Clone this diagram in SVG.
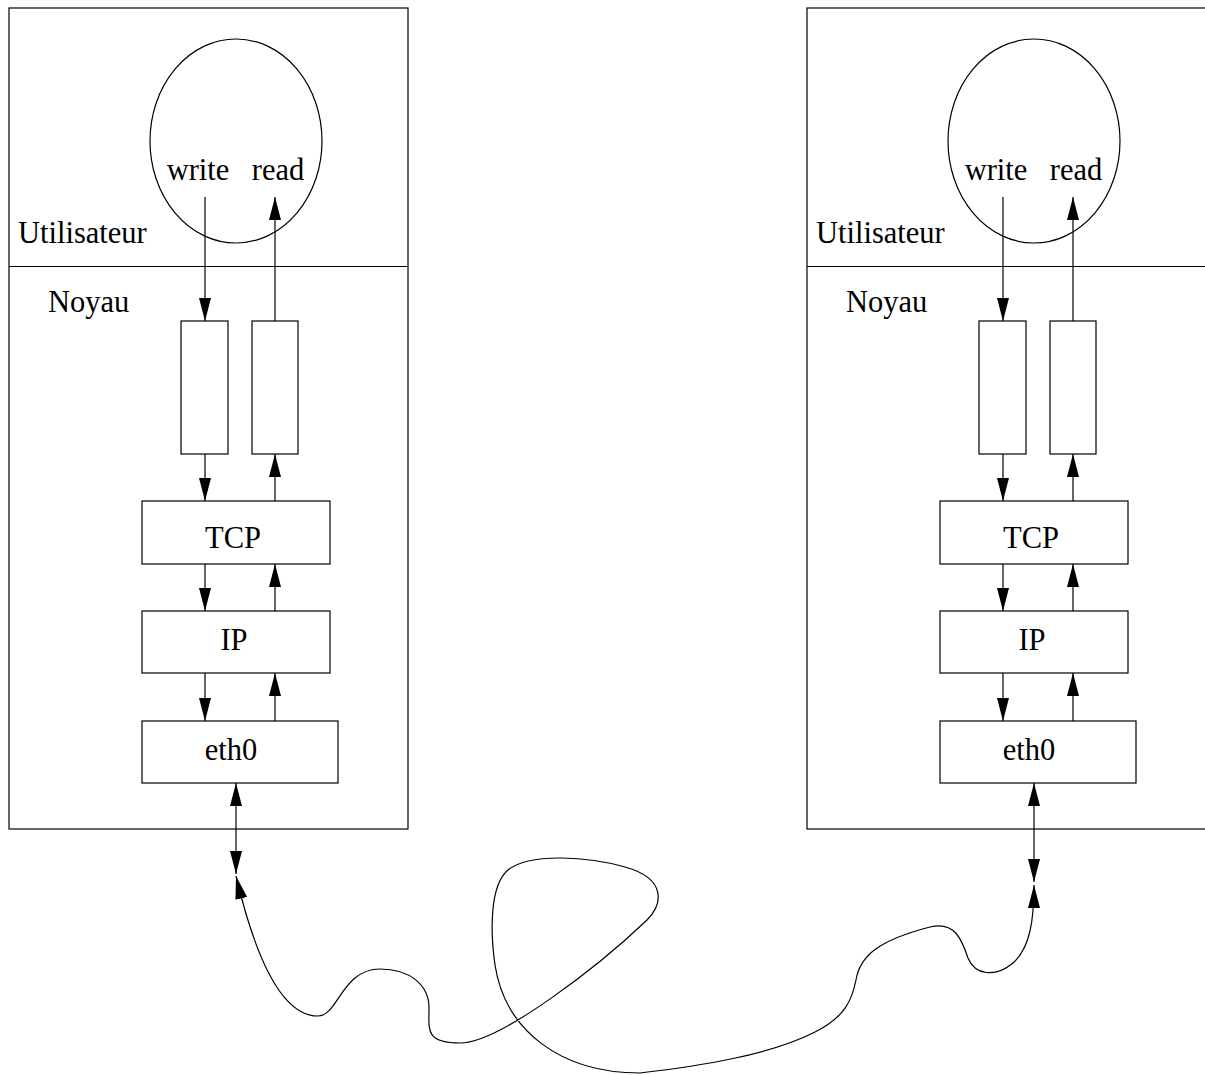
<svg xmlns="http://www.w3.org/2000/svg" width="1205" height="1075" viewBox="0 0 1205 1075">
<style>
.s{fill:none;stroke:#000;stroke-width:1.2}
.b{fill:#fff;stroke:#000;stroke-width:1.2}
.t{font-family:"Liberation Serif","Times New Roman",serif;font-size:30.5px;fill:#000}
.m{text-anchor:middle}
.a{fill:none;stroke:#000;stroke-width:1.2;marker-end:url(#ah)}
.d{fill:none;stroke:#000;stroke-width:1.2;marker-start:url(#ah);marker-end:url(#ah)}
</style>
<defs>
<marker id="ah" markerUnits="userSpaceOnUse" markerWidth="24" markerHeight="14" refX="23" refY="6" orient="auto-start-reverse" viewBox="0 0 24 12">
<path d="M0,0 L23,6 L0,12 z" fill="#000"/>
</marker>
</defs>
<rect width="1205" height="1075" fill="#fff"/>

<g id="host-left">
<g id="host-left-frame">
<rect class="s" x="9" y="8" width="399" height="821"/>
<line class="s" x1="9" y1="266.5" x2="408" y2="266.5"/>
<text class="t" x="18" y="243">Utilisateur</text>
<text class="t" x="48" y="312">Noyau</text>
</g>
<g id="process-left">
<ellipse class="s" cx="236" cy="141" rx="86" ry="102"/>
<text class="t m" x="198" y="180">write</text>
<text class="t m" x="278" y="180">read</text>
</g>
<g id="buf-write-left"><rect class="b" x="181" y="321" width="47" height="133"/></g>
<g id="buf-read-left"><rect class="b" x="252" y="321" width="46" height="133"/></g>
<g id="tcp-left"><rect class="b" x="142" y="501" width="188" height="63"/><text class="t m" x="233" y="548">TCP</text></g>
<g id="ip-left"><rect class="b" x="142" y="611" width="188" height="62"/><text class="t m" x="234" y="650">IP</text></g>
<g id="eth0-left"><rect class="b" x="142" y="721" width="196" height="62"/><text class="t m" x="231" y="760">eth0</text></g>
</g>

<g id="host-right">
<g id="host-right-frame">
<rect class="s" x="807" y="8" width="399" height="821"/>
<line class="s" x1="807" y1="266.5" x2="1206" y2="266.5"/>
<text class="t" x="816" y="243">Utilisateur</text>
<text class="t" x="846" y="312">Noyau</text>
</g>
<g id="process-right">
<ellipse class="s" cx="1034" cy="141" rx="86" ry="102"/>
<text class="t m" x="996" y="180">write</text>
<text class="t m" x="1076" y="180">read</text>
</g>
<g id="buf-write-right"><rect class="b" x="979" y="321" width="47" height="133"/></g>
<g id="buf-read-right"><rect class="b" x="1050" y="321" width="46" height="133"/></g>
<g id="tcp-right"><rect class="b" x="940" y="501" width="188" height="63"/><text class="t m" x="1031" y="548">TCP</text></g>
<g id="ip-right"><rect class="b" x="940" y="611" width="188" height="62"/><text class="t m" x="1032" y="650">IP</text></g>
<g id="eth0-right"><rect class="b" x="940" y="721" width="196" height="62"/><text class="t m" x="1029" y="760">eth0</text></g>
</g>

<g id="connectors">
<line class="a" x1="205" y1="197" x2="205" y2="321"/>
<line class="a" x1="275" y1="321" x2="275" y2="197"/>
<line class="a" x1="205" y1="454" x2="205" y2="501"/>
<line class="a" x1="275" y1="501" x2="275" y2="454"/>
<line class="a" x1="205" y1="564" x2="205" y2="611"/>
<line class="a" x1="275" y1="611" x2="275" y2="564"/>
<line class="a" x1="205" y1="673" x2="205" y2="721"/>
<line class="a" x1="275" y1="721" x2="275" y2="673"/>
<line class="d" x1="236" y1="783" x2="236" y2="874"/>

<line class="a" x1="1003" y1="197" x2="1003" y2="321"/>
<line class="a" x1="1073" y1="321" x2="1073" y2="197"/>
<line class="a" x1="1003" y1="454" x2="1003" y2="501"/>
<line class="a" x1="1073" y1="501" x2="1073" y2="454"/>
<line class="a" x1="1003" y1="564" x2="1003" y2="611"/>
<line class="a" x1="1073" y1="611" x2="1073" y2="564"/>
<line class="a" x1="1003" y1="673" x2="1003" y2="721"/>
<line class="a" x1="1073" y1="721" x2="1073" y2="673"/>
<line class="d" x1="1034" y1="783" x2="1034" y2="882"/>

<path class="d" d="M236,876 C250,935 275,1016 318,1016 C338,1016 342,969 380,969 C410,969 429,985 429,1008 C429,1030 425,1043 460,1043 C500,1043 600,965 647,920 C662,905 668,879 625,867 C590,857 530,852 508,870 C490,885 490,930 495,965 C505,1030 560,1073 640,1073 C700,1066 770,1055 815,1032 C845,1017 852,1000 856,980 C860,955 880,940 930,927 C955,921 962,940 968,958 C975,975 995,978 1013,963 C1030,948 1034,920 1034,885"/>
</g>
</svg>
